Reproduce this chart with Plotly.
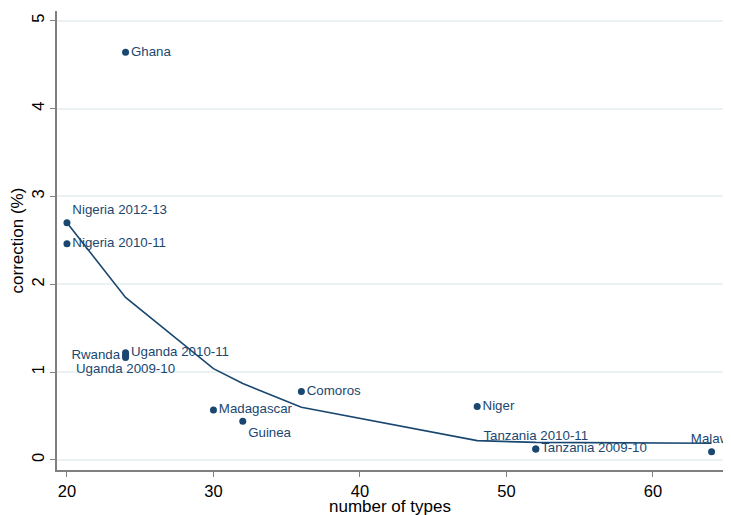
import plotly.graph_objects as go

# Data
countries = ["Ghana", "Nigeria 2012-13", "Nigeria 2010-11", "Uganda 2010-11", "Rwanda",
             "Uganda 2009-10", "Madagascar", "Guinea", "Comoros", "Niger",
             "Tanzania 2010-11", "Tanzania 2009-10", "Malawi"]
num_types = [24, 20, 20, 24, 24, 24, 30, 32, 36, 48, 52, 52, 64]
correction = [4.64, 2.70, 2.46, 1.22, 1.19, 1.165, 0.57, 0.44, 0.78, 0.61, 0.125, 0.125, 0.095]
label_pos = ["middle right", "top right", "middle right", "middle right", "middle left",
             "bottom center", "middle right", "bottom right", "middle right", "middle right",
             "top center", "middle right", "top center"]

fit_x = [20, 24, 30, 32, 36, 48, 52, 64]
fit_y = [2.70, 1.85, 1.04, 0.87, 0.60, 0.22, 0.20, 0.19]

x_title = "number of types"
y_title = "correction (%)"

navy = "#1a476f"

fig = go.Figure()
fig.add_trace(go.Scatter(
    x=fit_x, y=fit_y, mode="lines",
    line=dict(color=navy, width=1.6), showlegend=False, hoverinfo="skip"))
fig.add_trace(go.Scatter(
    x=num_types, y=correction, mode="markers+text",
    text=countries, textposition=label_pos,
    textfont=dict(family="Liberation Sans, Arial, sans-serif", size=13.3, color=navy),
    marker=dict(color=navy, size=7), cliponaxis=False, showlegend=False))

tick_font = dict(family="Liberation Sans, Arial, sans-serif", size=16.5, color="black")
title_font = dict(family="Liberation Sans, Arial, sans-serif", size=17, color="black")

# page body has an 8px margin, so the figure is sized/positioned to compensate
fig.update_layout(
    width=723, height=507,
    margin=dict(l=49, r=8, t=3, b=45),
    paper_bgcolor="white", plot_bgcolor="white",
    font=tick_font,
    xaxis=dict(
        range=[19.32, 64.78], tickvals=[20, 30, 40, 50, 60],
        showgrid=False, zeroline=False, automargin=False,
        showline=True, linecolor="#7f7f7f", linewidth=1.5,
        ticks="outside", ticklen=5, tickcolor="#7f7f7f", tickwidth=1.2,
        tickfont=tick_font),
    yaxis=dict(
        range=[-0.114, 5.11], tickvals=[0, 1, 2, 3, 4, 5],
        showgrid=True, gridcolor="#eaf2f3", gridwidth=1.5, zeroline=False,
        automargin=False,
        showline=True, linecolor="#7f7f7f", linewidth=1.5,
        ticks="outside", ticklen=5, tickcolor="#7f7f7f", tickwidth=1.2,
        tickangle=-90, tickfont=tick_font,
        title=dict(text=y_title, font=title_font, standoff=4)),
    annotations=[dict(
        text=x_title, font=title_font, showarrow=False,
        xref="paper", yref="paper", x=0.5, y=0,
        xanchor="center", yanchor="top", yshift=-25)],
)

fig.write_html("out.html")
